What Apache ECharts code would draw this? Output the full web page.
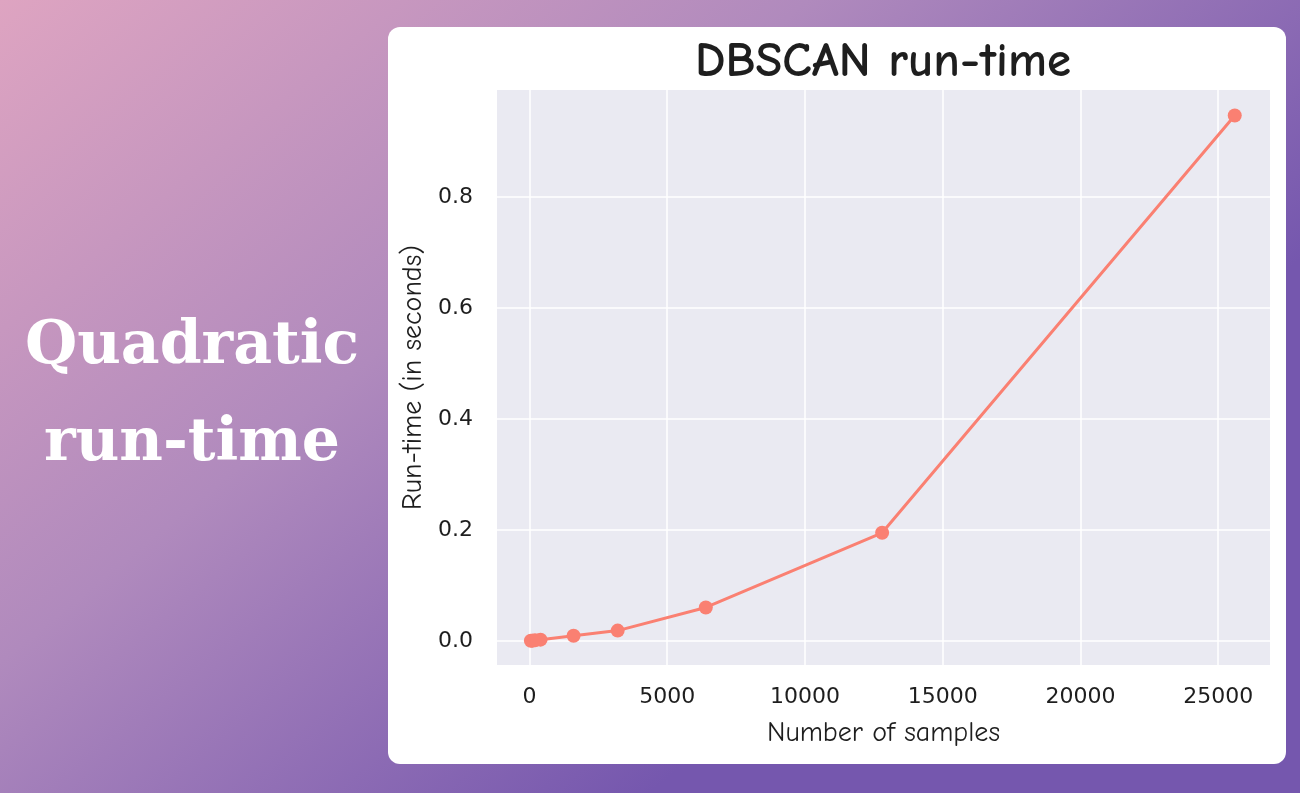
<!DOCTYPE html>
<html>
<head>
<meta charset="utf-8">
<script src="https://cdn.jsdelivr.net/npm/echarts@6/dist/echarts.min.js"></script>
<style>html,body{margin:0;padding:0;}#c{width:1300px;height:793px;}</style>
</head>
<body>
<div id="c"></div>
<script>
const samples = [50, 100, 200, 400, 1600, 3200, 6400, 12800, 25600];
const runtime = [0.0004, 0.0007, 0.0012, 0.0025, 0.0095, 0.0188, 0.0605, 0.195, 0.947];
const xTicks = [0, 5000, 10000, 15000, 20000, 25000];
const yTicks = [0.0, 0.2, 0.4, 0.6, 0.8];
const chartTitle = 'DBSCAN run-time';
const xName = 'Number of samples';
const yName = 'Run-time (in seconds)';
const sideText = ['Quadratic', 'run-time'];

const comic = '"Comic Sans MS","Comic Neue","DejaVu Sans",sans-serif';
const chart = echarts.init(document.getElementById('c'));
chart.setOption({
  animation: false,
  backgroundColor: new echarts.graphic.LinearGradient(0, 0, 0.5, 1, [
    {offset: 0, color: '#dea4c1'},
    {offset: 0.5, color: '#b08abd'},
    {offset: 1, color: '#7557ae'}
  ]),
  graphic: [
    {type: 'rect', z: -10, shape: {x: 388, y: 27, width: 898, height: 737, r: 12}, style: {fill: '#ffffff'}},
    {type: 'rect', z: -9, shape: {x: 497, y: 90, width: 773, height: 575}, style: {fill: '#eaeaf2'}},
    {type: 'text', x: 192, y: 347, style: {text: sideText[0], fill: '#ffffff', font: 'bold 60px "DejaVu Serif","Liberation Serif",serif', textAlign: 'center', textVerticalAlign: 'middle'}},
    {type: 'text', x: 192, y: 444, style: {text: sideText[1], fill: '#ffffff', font: 'bold 60px "DejaVu Serif","Liberation Serif",serif', textAlign: 'center', textVerticalAlign: 'middle'}},
    {type: 'text', x: 883, y: 62, style: {text: chartTitle, fill: '#1e1e1e', font: 'bold 49px ' + comic, textAlign: 'center', textVerticalAlign: 'middle'}}
  ],
  grid: {left: 497, top: 90, width: 773, height: 575, containLabel: false},
  xAxis: {
    type: 'value', min: -1180, max: 26880,
    name: xName, nameLocation: 'middle', nameGap: 54,
    nameTextStyle: {fontFamily: comic, fontSize: 28, color: '#1e1e1e'},
    axisLine: {show: false},
    axisTick: {show: false, customValues: xTicks},
    axisLabel: {customValues: xTicks, fontFamily: 'DejaVu Sans', fontSize: 22, color: '#1e1e1e', margin: 21,
      formatter: v => String(v)},
    splitLine: {show: true, lineStyle: {color: '#ffffff', width: 1.5}}
  },
  yAxis: {
    type: 'value', min: -0.0432, max: 0.993,
    name: yName, nameLocation: 'middle', nameGap: 70, nameRotate: 90,
    nameTextStyle: {fontFamily: comic, fontSize: 28, color: '#1e1e1e'},
    axisLine: {show: false},
    axisTick: {show: false, customValues: yTicks},
    axisLabel: {customValues: yTicks, fontFamily: 'DejaVu Sans', fontSize: 22, color: '#1e1e1e', margin: 24,
      formatter: v => v.toFixed(1)},
    splitLine: {show: true, lineStyle: {color: '#ffffff', width: 1.5}}
  },
  series: [{
    type: 'line',
    data: samples.map((s, i) => [s, runtime[i]]),
    symbol: 'circle', symbolSize: 14,
    lineStyle: {color: '#fa8072', width: 3},
    itemStyle: {color: '#fa8072'}
  }]
});
</script>
</body>
</html>
